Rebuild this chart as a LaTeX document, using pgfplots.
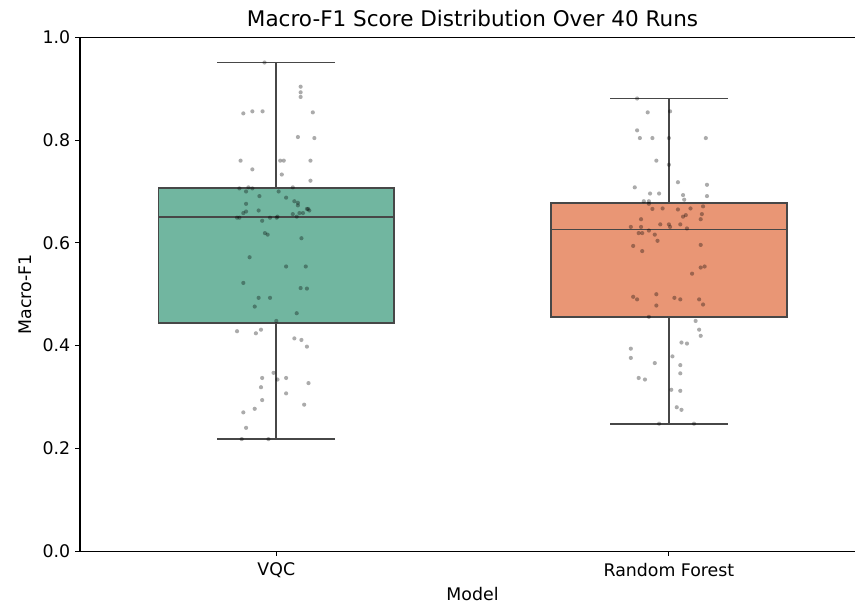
\documentclass[border=0pt]{standalone}
\usepackage{fontspec}
\setmainfont{DejaVu Sans}
\usepackage{pgfplots}
\pgfplotsset{compat=1.18}
\usepgfplotslibrary{statistics}

\definecolor{vqc}{HTML}{71B6A0}
\definecolor{rf}{HTML}{E99675}
\definecolor{linegray}{HTML}{474747}

\pgfplotsset{
  boxplot/every box/.style={draw=linegray, line width=1.3pt},
  boxplot/every whisker/.style={draw=linegray, line width=1.3pt},
  boxplot/every median/.style={draw=linegray, line width=1.3pt},
  runs/.style={only marks, mark=*, mark size=1.5pt,
    mark options={draw=black, fill=black, draw opacity=0, fill opacity=0.33}},
}

\begin{document}
\begin{tikzpicture}
\begin{axis}[
  name=ax,
  scale only axis,
  width=558pt, height=369.9pt,
  xmin=-0.5, xmax=1.474,
  ymin=0, ymax=1,
  axis x line*=box, axis y line*=left,
  xtick pos=bottom, ytick pos=left,
  xtick={0,1}, xticklabels={VQC, Random Forest},
  ytick={0,0.2,0.4,0.6,0.8,1.0},
  yticklabel style={/pgf/number format/.cd, fixed, fixed zerofill, precision=1},
  /pgf/number format/assume math mode=true,
  tick align=outside,
  major tick length=3.5pt,
  tick style={black, line width=0.8pt},
  axis line style={black, line width=0.8pt},
  ticklabel style={font=\fontsize{12.5}{15}\selectfont},
  xticklabel style={yshift=-1.5pt},
  every axis title shift=0pt,
  title={Macro-F1 Score Distribution Over 40 Runs},
  title style={at={(axis description cs:0.5065,1.0376)}, anchor=center, font=\fontsize{15.5}{18}\selectfont},
  xlabel={Model},
  xlabel style={at={(axis description cs:0.5065,-0.0837)}, anchor=center, font=\fontsize{12.5}{15}\selectfont},
  ylabel={Macro-F1},
  ylabel style={at={(axis description cs:-0.0710,0.5)}, anchor=center, font=\fontsize{12.5}{15}\selectfont},
  boxplot/draw direction=y,
]
% box plots
\addplot[draw=linegray, line width=1.3pt, fill=vqc,
  boxplot prepared={draw position=0, lower whisker=0.218, lower quartile=0.444,
    median=0.651, upper quartile=0.706, upper whisker=0.951,
    box extend=0.6, whisker extend=0.3}] coordinates {};
\addplot[draw=linegray, line width=1.3pt, fill=rf,
  boxplot prepared={draw position=1, lower whisker=0.248, lower quartile=0.456,
    median=0.626, upper quartile=0.678, upper whisker=0.881,
    box extend=0.6, whisker extend=0.3}] coordinates {};
% jittered run scores, VQC
\addplot[runs] coordinates {
(-0.030,0.951) (0.062,0.904) (0.062,0.893) (0.062,0.884) (-0.084,0.852)
(-0.061,0.856) (-0.035,0.856) (0.093,0.854) (0.055,0.806) (0.097,0.804)
(-0.091,0.760) (0.010,0.760) (0.019,0.760) (0.087,0.760) (-0.061,0.743)
(0.014,0.733) (0.087,0.721) (-0.094,0.706) (-0.071,0.708) (-0.061,0.706)
(-0.077,0.700) (0.006,0.700) (0.042,0.708) (-0.043,0.691) (0.025,0.688)
(0.046,0.681) (0.055,0.678) (0.055,0.673) (-0.077,0.676) (0.081,0.666)
(-0.045,0.663) (-0.084,0.658) (-0.077,0.661) (0.078,0.666) (0.084,0.663)
(0.068,0.658) (0.059,0.658) (0.042,0.656) (-0.100,0.649) (-0.094,0.649)
(-0.036,0.643) (-0.016,0.649) (0.001,0.649) (0.003,0.651) (0.052,0.651)
(-0.029,0.619) (-0.022,0.616) (0.064,0.609) (-0.068,0.572) (0.025,0.554)
(0.075,0.554) (-0.084,0.522) (0.062,0.512) (0.078,0.511) (-0.045,0.493)
(-0.016,0.493) (-0.055,0.476) (0.052,0.463) (0.000,0.448) (-0.100,0.428)
(-0.052,0.424) (-0.039,0.431) (0.046,0.414) (0.064,0.411) (0.078,0.398)
(-0.007,0.347) (-0.036,0.337) (0.003,0.334) (0.025,0.337) (0.082,0.327)
(-0.039,0.319) (0.025,0.307) (-0.036,0.294) (-0.055,0.277) (-0.084,0.270)
(0.071,0.285) (-0.077,0.240) (-0.088,0.218) (-0.020,0.218)
};
% jittered run scores, Random Forest
\addplot[runs] coordinates {
(0.919,0.881) (0.946,0.854) (1.003,0.856) (0.919,0.819) (0.926,0.804)
(0.958,0.804) (1.000,0.804) (1.094,0.804) (0.968,0.760) (1.000,0.752)
(1.023,0.718) (1.097,0.713) (0.913,0.708) (0.952,0.696) (0.975,0.696)
(1.036,0.693) (1.039,0.684) (1.097,0.691) (0.936,0.681) (0.949,0.681)
(1.087,0.671) (0.958,0.666) (0.984,0.667) (1.023,0.665) (1.055,0.667)
(0.949,0.676) (1.084,0.656) (1.081,0.646) (1.036,0.651) (1.043,0.654)
(0.929,0.646) (0.903,0.631) (0.929,0.631) (0.978,0.636) (1.000,0.636)
(1.003,0.631) (1.029,0.636) (1.046,0.628) (0.949,0.624) (0.923,0.619)
(0.932,0.619) (0.964,0.616) (0.971,0.604) (0.909,0.594) (0.932,0.584)
(1.081,0.596) (1.081,0.552) (1.091,0.554) (1.059,0.540) (0.909,0.495)
(0.919,0.490) (0.968,0.500) (1.014,0.493) (1.029,0.490) (1.077,0.490)
(1.087,0.480) (0.968,0.478) (0.949,0.456) (1.068,0.448) (1.077,0.431)
(1.081,0.419) (1.032,0.406) (1.046,0.404) (0.903,0.394) (0.903,0.376)
(1.009,0.379) (0.964,0.366) (1.029,0.362) (1.029,0.346) (0.923,0.337)
(0.939,0.334) (1.006,0.314) (1.029,0.312) (1.020,0.280) (1.032,0.275)
(0.975,0.248) (1.064,0.248)
};
\end{axis}
\pgfresetboundingbox
\path[use as bounding box] (-57.6pt,-38.9pt) rectangle (558pt,396.8pt);
\end{tikzpicture}
\end{document}
